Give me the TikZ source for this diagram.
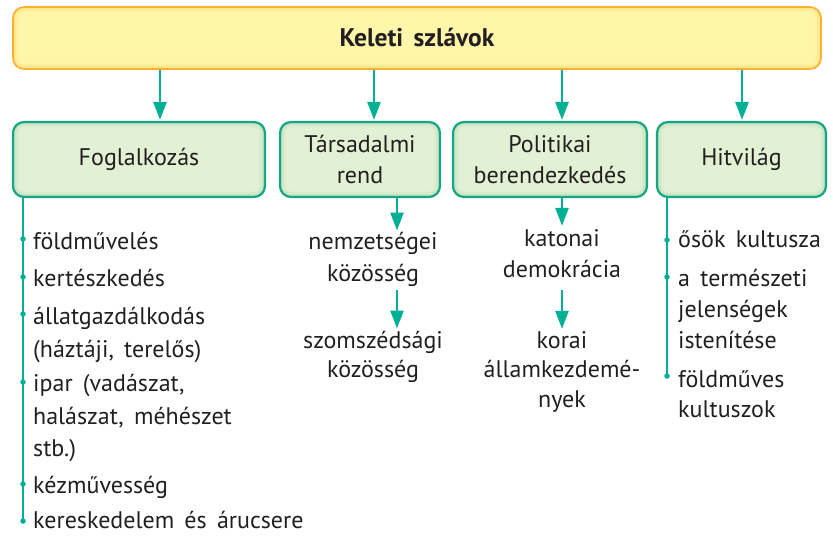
\documentclass[tikz,border=0pt]{standalone}
\usepackage{fontspec}
\setmainfont{PT Sans}[WordSpace=1.6]
\usetikzlibrary{arrows.meta}
\definecolor{tealline}{RGB}{0,176,148}
\definecolor{boxborder}{RGB}{22,166,132}
\definecolor{greenfill}{RGB}{226,240,212}
\definecolor{greenglow}{RGB}{186,224,188}
\definecolor{yellowfill}{RGB}{255,246,170}
\definecolor{yellowglow}{RGB}{255,226,128}
\definecolor{orangeline}{RGB}{250,176,52}
\definecolor{textcol}{RGB}{35,31,32}
\newcommand\myinset[2]{%
  \foreach \k/\p/\r in {1.5/35/9.5,3/65/8,4.5/88/6.5,6/100/5}{%
    \fill[#2!\p!#1, rounded corners=\r pt]
      ([shift={(\k pt,-\k pt)}]path picture bounding box.north west)
      rectangle ([shift={(-\k pt,\k pt)}]path picture bounding box.south east);
  }}
\tikzset{
  topbox/.style={draw=orangeline, line width=1.6pt, rounded corners=11pt,
    fill=yellowglow, path picture={\myinset{yellowglow}{yellowfill}}},
  catbox/.style={draw=boxborder, line width=2.2pt, rounded corners=11pt,
    fill=greenglow, minimum height=75pt, align=center, inner sep=0pt,
    path picture={\myinset{greenglow}{greenfill}}},
  arr/.style={draw=tealline, line width=2.6pt, -{Triangle[width=13pt,length=18pt]}},
  tline/.style={draw=tealline, line width=2.6pt},
  dot/.style={circle, fill=tealline, inner sep=0pt, minimum size=5.5pt},
  txt/.style={inner sep=2pt, text=textcol},
}
\begin{document}
\begin{tikzpicture}[x=1pt,y=-1pt, font=\fontsize{24}{31}\selectfont, every node/.append style={text=textcol}]
\useasboundingbox (0,0) rectangle (833,540);

\node[topbox, minimum width=808pt, minimum height=62pt, font=\fontsize{25.5}{31}\selectfont\bfseries] (top) at (417,38) {Keleti szlávok};

\node[catbox, minimum width=252pt] (c1) at (139,159.5) {Foglalkozás};
\node[catbox, minimum width=160pt] (c2) at (360,159.5) {Társadalmi\\rend};
\node[catbox, minimum width=194pt] (c3) at (550,159.5) {Politikai\\berendezkedés};
\node[catbox, minimum width=169pt] (c4) at (741.5,159.5) {Hitvilág};

\coordinate (ax1) at (160,0);
\coordinate (ax2) at (374,0);
\coordinate (ax3) at (562,0);
\coordinate (ax4) at (742,0);
\foreach \i in {1,2,3,4}{
  \draw[arr, shorten >=1pt] (top.south -| ax\i) -- (c\i.north -| ax\i);
}

% Társadalmi rend column
\coordinate (bx2) at (397,0);
\node[txt, anchor=base] (n1) at (373,250) {nemzetségei};
\node[txt, anchor=base] (n2) at (373,282) {közösség};
\node[txt, anchor=base] (n3) at (373,348) {szomszédsági};
\node[txt, anchor=base] (n4) at (373,377) {közösség};
\draw[arr] (c2.south -| bx2) -- (n1.north -| bx2);
\draw[arr, shorten <=1pt] (n2.south -| bx2) -- (n3.north -| bx2);

% Politikai berendezkedés column
\coordinate (bx3) at (562,0);
\node[txt, anchor=base] (p1) at (562,247) {katonai};
\node[txt, anchor=base] (p2) at (562,278) {demokrácia};
\node[txt, anchor=base] (p3) at (562,348) {korai};
\node[txt, anchor=base] (p4) at (562,377) {államkezdemé-};
\node[txt, anchor=base] (p5) at (562,407) {nyek};
\draw[arr, shorten >=2pt] (c3.south -| bx3) -- (p1.north -| bx3);
\draw[arr, shorten <=10pt] (p2.south -| bx3) -- (p3.north -| bx3);

% Foglalkozás list
\node[dot] (L1) at (23,239) {};
\node[dot] (L2) at (23,277) {};
\node[dot] (L3) at (23,314) {};
\node[dot] (L4) at (23,382) {};
\node[dot] (L5) at (23,484) {};
\node[dot] (L6) at (23,521) {};
\draw[tline] (c1.south -| L1) -- (L6.center);
\node[txt, anchor=base west] (f1) at (31,250) {földművelés};
\node[txt, anchor=base west] (f2) at (31,287) {kertészkedés};
\node[txt, anchor=base west] (f3) at (31,324) {állatgazdálkodás};
\node[txt, anchor=base west] (f4) at (31,357) {(háztáji, terelős)};
\node[txt, anchor=base west] (f5) at (31,391) {ipar (vadászat,};
\node[txt, anchor=base west] (f6) at (31,424) {halászat, méhészet};
\node[txt, anchor=base west] (f7) at (31,456) {stb.)};
\node[txt, anchor=base west] (f8) at (31,493) {kézművesség};
\node[txt, anchor=base west] (f9) at (31,528) {kereskedelem és árucsere};

% Hitvilág list
\node[dot] (R1) at (667,240) {};
\node[dot] (R2) at (667,277) {};
\node[dot] (R3) at (667,376) {};
\draw[tline] (c4.south -| R1) -- (R3.center);
\node[txt, anchor=base west] (h1) at (676,248) {ősök kultusza};
\node[txt, anchor=base west] (h2) at (676,287) {a természeti};
\node[txt, anchor=base west] (h3) at (676,317) {jelenségek};
\node[txt, anchor=base west] (h4) at (676,348) {istenítése};
\node[txt, anchor=base west] (h5) at (676,387) {földműves};
\node[txt, anchor=base west] (h6) at (676,417) {kultuszok};
\end{tikzpicture}
\end{document}
